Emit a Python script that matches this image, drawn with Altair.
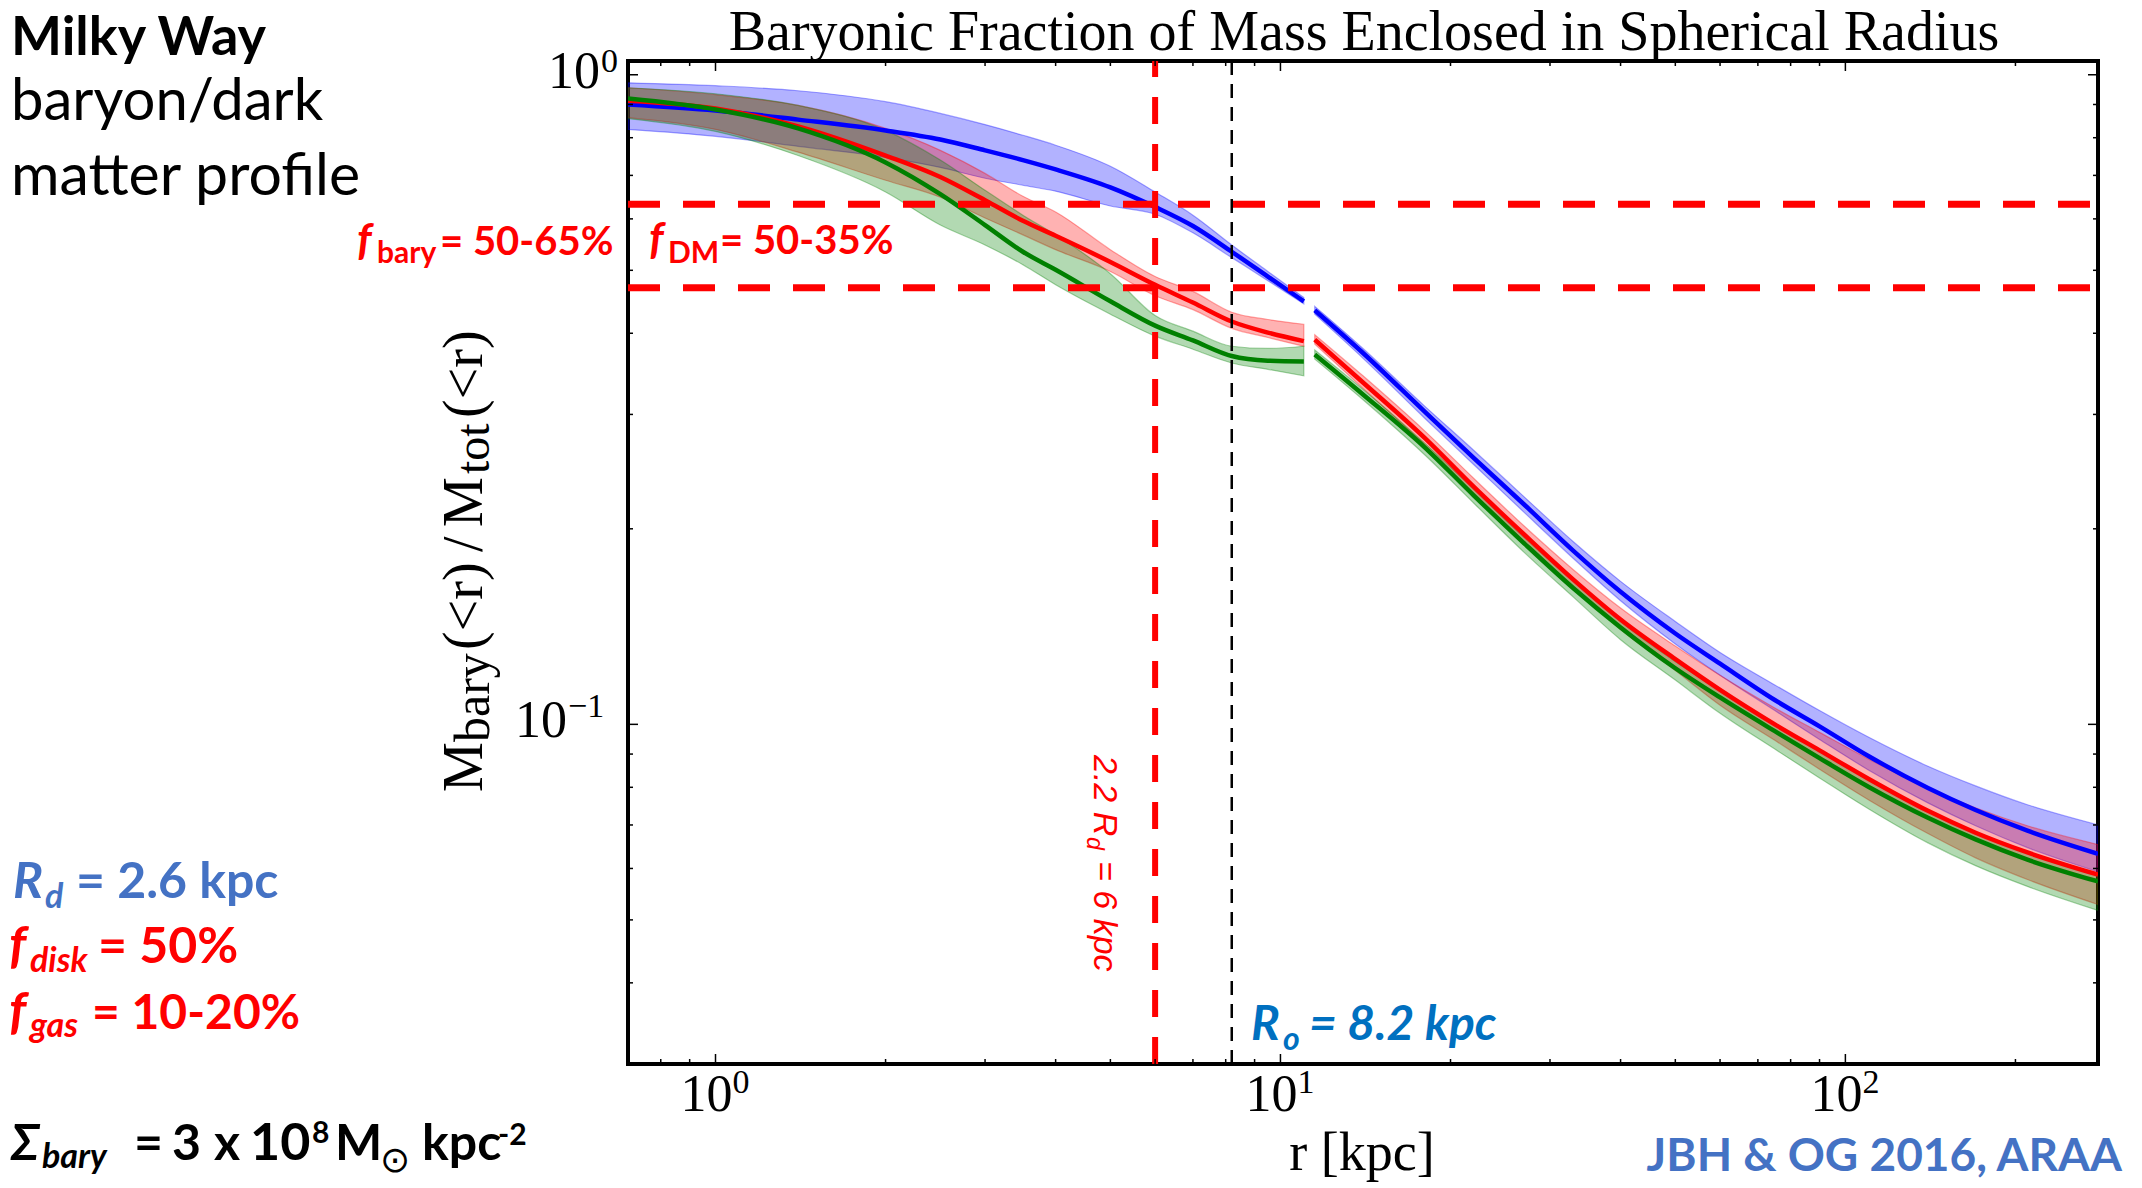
import altair as alt
import pandas as pd

# ---------------- data ----------------
r_inner = [0.7, 1.0, 1.4, 2.0, 2.5, 3.0, 3.5, 4.0, 5.0, 6.0, 7.0, 8.2, 9.5, 11.0]
r_outer = [11.5, 14, 18, 22, 27, 33, 40, 50, 60, 75, 90, 110, 140, 170, 210, 280]

blue_inner    = [0.900, 0.881, 0.853, 0.821, 0.795, 0.765, 0.739, 0.715, 0.671, 0.626, 0.585, 0.534, 0.489, 0.448]
blue_inner_hi = [0.972, 0.962, 0.945, 0.909, 0.872, 0.838, 0.807, 0.779, 0.723, 0.660, 0.608, 0.547, 0.498, 0.454]
blue_inner_lo = [0.824, 0.804, 0.776, 0.746, 0.720, 0.693, 0.676, 0.662, 0.628, 0.610, 0.571, 0.523, 0.482, 0.444]
red_inner    = [0.912, 0.887, 0.833, 0.751, 0.696, 0.641, 0.596, 0.565, 0.515, 0.475, 0.446, 0.417, 0.401, 0.389]
red_inner_hi = [0.955, 0.932, 0.897, 0.827, 0.765, 0.705, 0.650, 0.615, 0.538, 0.489, 0.464, 0.431, 0.420, 0.413]
red_inner_lo = [0.859, 0.824, 0.760, 0.688, 0.648, 0.602, 0.567, 0.538, 0.498, 0.457, 0.435, 0.407, 0.394, 0.382]
green_inner    = [0.919, 0.884, 0.827, 0.733, 0.655, 0.587, 0.534, 0.501, 0.448, 0.411, 0.390, 0.369, 0.363, 0.362]
green_inner_hi = [0.955, 0.935, 0.897, 0.821, 0.739, 0.664, 0.608, 0.567, 0.494, 0.426, 0.403, 0.382, 0.379, 0.382]
green_inner_lo = [0.856, 0.818, 0.751, 0.660, 0.587, 0.547, 0.510, 0.475, 0.428, 0.396, 0.378, 0.360, 0.352, 0.344]

blue_outer    = [0.434, 0.373, 0.303, 0.257, 0.218, 0.185, 0.160, 0.138, 0.124, 0.109, 0.0993, 0.0893, 0.0798, 0.0738, 0.0686, 0.0632]
blue_outer_hi = [0.440, 0.379, 0.309, 0.264, 0.224, 0.191, 0.166, 0.144, 0.129, 0.115, 0.105, 0.0955, 0.0862, 0.0804, 0.0752, 0.0700]
blue_outer_lo = [0.428, 0.366, 0.296, 0.251, 0.212, 0.180, 0.155, 0.133, 0.119, 0.105, 0.0948, 0.0850, 0.0757, 0.0698, 0.0646, 0.0593]
red_outer    = [0.391, 0.336, 0.276, 0.232, 0.196, 0.167, 0.145, 0.126, 0.113, 0.100, 0.0912, 0.0824, 0.0736, 0.0681, 0.0635, 0.0587]
red_outer_hi = [0.398, 0.344, 0.283, 0.239, 0.202, 0.173, 0.151, 0.132, 0.119, 0.106, 0.0972, 0.0884, 0.0798, 0.0744, 0.0698, 0.0653]
red_outer_lo = [0.385, 0.329, 0.269, 0.226, 0.190, 0.162, 0.140, 0.121, 0.107, 0.0945, 0.0853, 0.0765, 0.0679, 0.0623, 0.0577, 0.0528]
green_outer    = [0.371, 0.322, 0.267, 0.225, 0.190, 0.162, 0.141, 0.122, 0.110, 0.0976, 0.0887, 0.0801, 0.0718, 0.0665, 0.0619, 0.0573]
green_outer_hi = [0.377, 0.328, 0.271, 0.230, 0.194, 0.166, 0.144, 0.125, 0.113, 0.100, 0.0912, 0.0824, 0.0738, 0.0683, 0.0637, 0.0589]
green_outer_lo = [0.365, 0.316, 0.260, 0.219, 0.184, 0.157, 0.135, 0.117, 0.104, 0.0916, 0.0827, 0.0741, 0.0657, 0.0606, 0.0563, 0.0517]

disk_2p2_rd = [6.0]        # 2.2 R_d = 6 kpc
sun_radius = [8.2]         # R_o = 8.2 kpc
fbary_levels = [0.632, 0.47]

x_major = [1, 10, 100]
x_exp = ["0", "1", "2"]
x_minor = [0.8, 0.9, 2, 3, 4, 5, 6, 7, 8, 9, 20, 30, 40, 50, 60, 70, 80, 90, 200]
y_major = [0.1, 1.0]
y_minor = [0.03, 0.04, 0.05, 0.06, 0.07, 0.08, 0.09, 0.2, 0.3, 0.4, 0.5, 0.6, 0.7, 0.8, 0.9]

# ---------------- build table ----------------
rows = []
for name, seg, rs, mid, lo, hi in [
    ("blue", "in", r_inner, blue_inner, blue_inner_lo, blue_inner_hi),
    ("blue", "out", r_outer, blue_outer, blue_outer_lo, blue_outer_hi),
    ("red", "in", r_inner, red_inner, red_inner_lo, red_inner_hi),
    ("red", "out", r_outer, red_outer, red_outer_lo, red_outer_hi),
    ("green", "in", r_inner, green_inner, green_inner_lo, green_inner_hi),
    ("green", "out", r_outer, green_outer, green_outer_lo, green_outer_hi),
]:
    for r, m, l, h in zip(rs, mid, lo, hi):
        rows.append({"series": name, "seg": seg, "r": r, "f": m, "lo": l, "hi": h})
df = pd.DataFrame(rows)

W, H = 1470, 1003
SERIF = "Liberation Serif"
SANS = "Lato"
RED = "#FF0000"
BLUE_T = "#4472C4"
COLORS = {"blue": "#0000FF", "red": "#FF0000", "green": "#008000"}

xscale = alt.Scale(type="log", domain=[0.7, 280])
yscale = alt.Scale(type="log", domain=[0.03, 1.05])
X = alt.X("r:Q", scale=xscale, axis=None)

layers = []
for s in ["blue", "red", "green"]:
    c = COLORS[s]
    layers.append(
        alt.Chart(df).transform_filter(alt.datum.series == s)
        .mark_area(color=c, fillOpacity=0.3, stroke=c, strokeOpacity=0.35, strokeWidth=1.2,
                   interpolate="monotone", clip=True)
        .encode(x=X, y=alt.Y("lo:Q", scale=yscale, axis=None), y2="hi:Q", detail="seg:N")
    )
for s in ["blue", "red", "green"]:
    c = COLORS[s]
    layers.append(
        alt.Chart(df).transform_filter(alt.datum.series == s)
        .mark_line(color=c, strokeWidth=4.5, interpolate="monotone", clip=True)
        .encode(x=X, y=alt.Y("f:Q", scale=yscale, axis=None), detail="seg:N")
    )

layers.append(
    alt.Chart(pd.DataFrame({"r": disk_2p2_rd}))
    .mark_rule(color=RED, strokeWidth=6, strokeDash=[27, 20])
    .encode(x=X, y=alt.value(H), y2=alt.value(0))
)
layers.append(
    alt.Chart(pd.DataFrame({"r": sun_radius}))
    .mark_rule(color="black", strokeWidth=2.5, strokeDash=[14, 9])
    .encode(x=X, y=alt.value(H), y2=alt.value(0))
)
layers.append(
    alt.Chart(pd.DataFrame({"f": fbary_levels}))
    .mark_rule(color=RED, strokeWidth=7, strokeDash=[32, 23])
    .encode(y=alt.Y("f:Q", scale=yscale, axis=None), x=alt.value(0), x2=alt.value(W))
)

# inward ticks on all four sides
def xticks(vals, ln):
    d = pd.DataFrame({"r": vals})
    b = alt.Chart(d).mark_rule(color="black", strokeWidth=1.5).encode(x=X, y=alt.value(H), y2=alt.value(H - ln))
    t = alt.Chart(d).mark_rule(color="black", strokeWidth=1.5).encode(x=X, y=alt.value(0), y2=alt.value(ln))
    return [b, t]

def yticks(vals, ln):
    d = pd.DataFrame({"f": vals})
    Y = alt.Y("f:Q", scale=yscale, axis=None)
    l = alt.Chart(d).mark_rule(color="black", strokeWidth=1.5).encode(y=Y, x=alt.value(0), x2=alt.value(ln))
    r = alt.Chart(d).mark_rule(color="black", strokeWidth=1.5).encode(y=Y, x=alt.value(W), x2=alt.value(W - ln))
    return [l, r]

layers += xticks(x_major, 10) + xticks(x_minor, 5) + yticks(y_major, 10) + yticks(y_minor, 5)

# tick labels (10 with exponent)
xl = pd.DataFrame({"r": x_major, "e": x_exp})
layers.append(alt.Chart(xl).mark_text(text="10", font=SERIF, fontSize=52, align="right", baseline="alphabetic", dx=17)
              .encode(x=X, y=alt.value(H + 47)))
layers.append(alt.Chart(xl).mark_text(font=SERIF, fontSize=34, align="left", baseline="alphabetic", dx=17)
              .encode(x=X, y=alt.value(H + 29), text="e:N"))
for v, e, base_right, edy in [(1.0, "0", -28, -3), (0.1, "\u22121", -61, -7)]:
    d = pd.DataFrame({"f": [v], "e": [e]})
    Y = alt.Y("f:Q", scale=yscale, axis=None)
    layers.append(alt.Chart(d).mark_text(text="10", font=SERIF, fontSize=52, align="right", baseline="alphabetic", dy=13)
                  .encode(y=Y, x=alt.value(base_right)))
    layers.append(alt.Chart(d).mark_text(font=SERIF, fontSize=34, align="left", baseline="alphabetic", dy=edy)
                  .encode(y=Y, x=alt.value(base_right + 1), text="e:N"))

one = pd.DataFrame({"k": [0]})

def label(text, x, y, size, color="black", weight="normal", style="normal", font=SANS, align="left", angle=0):
    kw = dict(text=text, font=font, fontSize=size, color=color, fontWeight=weight, fontStyle=style,
              align=align, baseline="alphabetic")
    if angle:
        kw["angle"] = angle
    return alt.Chart(one).mark_text(**kw).encode(x=alt.value(x), y=alt.value(y))

# title and axis titles
layers.append(label("Baryonic Fraction of Mass Enclosed in Spherical Radius", 736, -11, 56, font=SERIF, align="center"))
layers.append(label("r [kpc]", 734, 1109, 54, font=SERIF, align="center"))
for t, x, y, sz in [("M", -146, 731, 56), ("bary", -139, 681, 50), ("(<r)", -146, 589, 56), ("/", -146, 491, 56),
                    ("M", -146, 466, 56), ("tot", -139, 413, 48), ("(<r)", -146, 357, 56)]:
    layers.append(label(t, x, y, sz, font=SERIF, angle=270))

# left column
layers.append(label("Milky Way", -617, -6, 54, weight="bold"))
layers.append(label("baryon/dark", -617, 59, 58))
layers.append(label("matter profile", -617, 134, 59))

layers.append(label("f", -271, 194, 44, RED, "bold", "italic"))
layers.append(label("bary", -251, 202, 30, RED, "bold"))
layers.append(label("= 50-65%", -188, 194, 40, RED, "bold"))
layers.append(label("f", 21, 193, 44, RED, "bold", "italic"))
layers.append(label("DM", 40, 202, 30, RED, "bold"))
layers.append(label("= 50-35%", 92, 193, 40, RED, "bold"))

layers.append(label("R", -615, 837, 50, BLUE_T, "bold", "italic"))
layers.append(label("d", -583, 847, 34, BLUE_T, "bold", "italic"))
layers.append(label("= 2.6 kpc", -552, 837, 50, BLUE_T, "bold"))
layers.append(label("f", -619, 902, 52, RED, "bold", "italic"))
layers.append(label("disk", -598, 911, 34, RED, "bold", "italic"))
layers.append(label("= 50%", -530, 902, 50, RED, "bold"))
layers.append(label("f", -619, 968, 52, RED, "bold", "italic"))
layers.append(label("gas", -598, 976, 34, RED, "bold", "italic"))
layers.append(label("= 10-20%", -536, 968, 48, RED, "bold"))

layers.append(label("\u03a3", -617, 1099, 50, "black", "bold", "italic"))
layers.append(label("bary", -586, 1107, 34, "black", "bold", "italic"))
layers.append(label("=", -494, 1099, 50, "black", "bold"))
layers.append(label("3", -456, 1099, 50, "black", "bold"))
layers.append(label("x", -414, 1099, 50, "black", "bold"))
layers.append(label("10", -378, 1099, 52, "black", "bold"))
layers.append(label("8", -316, 1082, 30, "black", "bold"))
layers.append(label("M", -293, 1099, 50, "black", "bold"))
layers.append(label("\u2299", -248, 1111, 36, "black"))
layers.append(label("kpc", -206, 1099, 50, "black", "bold"))
layers.append(label("-2", -130, 1084, 30, "black", "bold"))

# in-plot annotations
layers.append(label("R", 623, 979, 48, "#0070C0", "bold", "italic"))
layers.append(label("o", 655, 989, 32, "#0070C0", "bold", "italic"))
layers.append(label("= 8.2 kpc", 681, 979, 48, "#0070C0", "bold", "italic"))
layers.append(label("JBH & OG 2016, ARAA", 1494, 1110, 46, BLUE_T, "bold", align="right"))

layers.append(label("2.2 R", 466, 694, 34, RED, style="italic", font="Liberation Sans", angle=90))
layers.append(label("d", 459, 776, 23, RED, style="italic", font="Liberation Sans", angle=90))
layers.append(label("= 6 kpc", 466, 800, 34, RED, style="italic", font="Liberation Sans", angle=90))

chart = (
    alt.layer(*layers)
    .properties(
        width=W, height=H,
        autosize=alt.AutoSizeParams(type="none"),
        padding={"left": 628, "top": 61, "right": 44, "bottom": 124},
        background="white",
    )
    .configure_view(stroke="black", strokeWidth=4)
)

chart.save("out.html", embed_options={"renderer": "svg", "actions": False})
